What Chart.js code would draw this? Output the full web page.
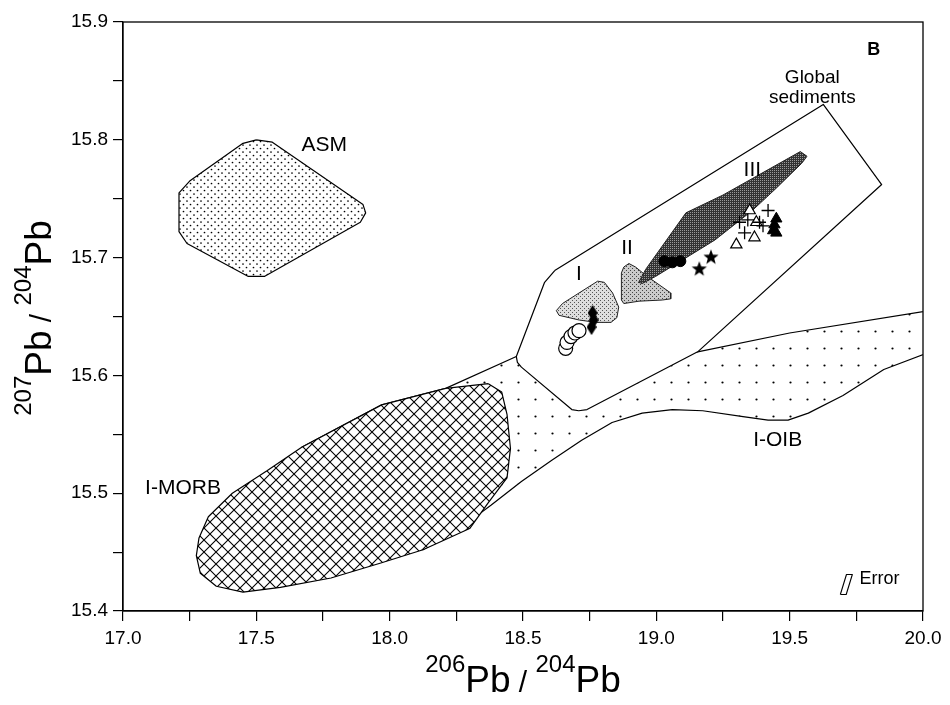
<!DOCTYPE html>
<html><head><meta charset="utf-8">
<script src="https://cdn.jsdelivr.net/npm/chart.js@4.4.1/dist/chart.umd.min.js"></script>
<style>html,body{margin:0;padding:0;background:#fff}</style>
</head><body>
<canvas id="c" width="950" height="705"></canvas>
<script>
// ---------- tick values / labels ----------
const xTickValues = [17.0,17.25,17.5,17.75,18.0,18.25,18.5,18.75,19.0,19.25,19.5,19.75,20.0];
const xTickLabels = ['17.0','','17.5','','18.0','','18.5','','19.0','','19.5','','20.0'];
const yTickValues = [15.4,15.45,15.5,15.55,15.6,15.65,15.7,15.75,15.8,15.85,15.9];
const yTickLabels = ['15.4','','15.5','','15.6','','15.7','','15.8','','15.9'];

// ---------- field outlines (206Pb/204Pb , 207Pb/204Pb) ----------
const asmX = [17.50, 17.56, 17.90, 17.91, 17.89, 17.53, 17.47, 17.24, 17.21, 17.21, 17.25, 17.45];
const asmY = [15.800, 15.798, 15.745, 15.738, 15.730, 15.684, 15.684, 15.712, 15.722, 15.755, 15.765, 15.797];

const sedX = [18.619, 18.581, 18.475, 18.479, 18.494, 18.683, 18.709, 18.74, 19.155, 19.845, 19.626];
const sedY = [15.689, 15.679, 15.616, 15.611, 15.607, 15.571, 15.570, 15.571, 15.620, 15.762, 15.830];

const ioibX = [17.67, 17.97, 18.21, 18.475, 18.70, 18.95, 19.155, 19.50, 20.05, 20.05, 19.853, 19.70, 19.57, 19.494, 19.419, 19.325, 19.174, 19.06, 18.947, 18.834, 18.72, 18.608, 18.494, 18.381, 18.268, 18.125, 17.95, 17.75];
const ioibY = [15.539, 15.575, 15.589, 15.616, 15.600, 15.612, 15.620, 15.636, 15.656, 15.622, 15.605, 15.583, 15.568, 15.562, 15.562, 15.565, 15.570, 15.571, 15.568, 15.560, 15.545, 15.528, 15.510, 15.490, 15.471, 15.452, 15.460, 15.500];

const imorbX = [18.37, 18.42, 18.44, 18.453, 18.44, 18.37, 18.30, 18.125, 17.97, 17.78, 17.59, 17.45, 17.35, 17.29, 17.275, 17.285, 17.32, 17.41, 17.54, 17.67, 17.97, 18.21];
const imorbY = [15.593, 15.586, 15.567, 15.538, 15.513, 15.492, 15.470, 15.452, 15.441, 15.428, 15.420, 15.416, 15.421, 15.432, 15.447, 15.462, 15.480, 15.500, 15.519, 15.539, 15.575, 15.589];

const field1X = [18.625, 18.648, 18.780, 18.805, 18.836, 18.859, 18.852, 18.830, 18.774, 18.711, 18.635];
const field1Y = [15.655, 15.661, 15.680, 15.679, 15.670, 15.658, 15.649, 15.645, 15.645, 15.647, 15.651];

const field2X = [18.878, 18.897, 18.922, 18.960, 19.010, 19.054, 19.054, 19.023, 18.935, 18.878, 18.869, 18.869];
const field2Y = [15.692, 15.695, 15.692, 15.685, 15.677, 15.670, 15.665, 15.664, 15.663, 15.661, 15.664, 15.687];

const field3X = [18.934, 18.96, 19.111, 19.249, 19.54, 19.565, 19.545, 19.45, 19.36, 19.22, 19.098, 18.997, 18.947];
const field3Y = [15.679, 15.690, 15.738, 15.753, 15.790, 15.786, 15.780, 15.759, 15.740, 15.715, 15.698, 15.684, 15.678];

// ---------- samples ----------
const openCircleX = [18.660, 18.665, 18.680, 18.695, 18.710];
const openCircleY = [15.623, 15.628, 15.633, 15.636, 15.638];
const diamondX = [18.761, 18.765, 18.757];
const diamondY = [15.653, 15.647, 15.641];
const blackCircleX = [19.03, 19.06, 19.09];
const blackCircleY = [15.697, 15.696, 15.697];
const starX = [19.161, 19.205];
const starY = [15.691, 15.701];
const openTriX = [19.350, 19.375, 19.368, 19.300];
const openTriY = [15.740, 15.730, 15.717, 15.711];
const crossX = [19.419, 19.312, 19.343, 19.387, 19.331, 19.400];
const crossY = [15.740, 15.730, 15.732, 15.730, 15.721, 15.727];
const blackTriX = [19.450, 19.443, 19.438, 19.450];
const blackTriY = [15.733, 15.728, 15.723, 15.721];

// error symbol
const errX = [19.690, 19.712, 19.735, 19.713];
const errY = [15.414, 15.414, 15.431, 15.431];

// ---------- text annotations ----------
const labelText = ['ASM', 'Global', 'sediments', 'B', 'III', 'II', 'I', 'I-MORB', 'I-OIB'];
const labelX    = [17.755, 19.585, 19.585, 19.815, 19.36, 18.89, 18.71, 17.225, 19.455];
const labelY    = [15.795, 15.853, 15.836, 15.876, 15.774, 15.708, 15.686, 15.504, 15.545];
const labelSize = [21, 19, 19, 18, 21, 21, 21, 21, 21];
const errLabel = 'Error';
const errLabelX = 19.762, errLabelY = 15.427;

// ---------- helpers ----------
const FONT = '"Liberation Sans", Arial, Helvetica, sans-serif';
const cv = document.getElementById('c');
const ctx0 = cv.getContext('2d');
function tile(w, h, draw) {
  const c = document.createElement('canvas'); c.width = w; c.height = h;
  const g = c.getContext('2d'); draw(g, w, h);
  return ctx0.createPattern(c, 'repeat');
}
const denseDots = tile(7, 7, (g, w, h) => {
  g.fillStyle = '#fff'; g.fillRect(0, 0, w, h);
  g.fillStyle = '#000';
  g.beginPath(); g.arc(1.5, 1.5, 0.85, 0, 7); g.fill();
  g.beginPath(); g.arc(5, 5, 0.85, 0, 7); g.fill();
});
const sparseDots = tile(17, 17, (g, w, h) => {
  g.fillStyle = '#fff'; g.fillRect(0, 0, w, h);
  g.fillStyle = '#000'; g.beginPath(); g.arc(8.5, 8.5, 1.1, 0, 7); g.fill();
});
const crossHatch = tile(12, 12, (g, w, h) => {
  g.fillStyle = '#fff'; g.fillRect(0, 0, w, h);
  g.strokeStyle = '#000'; g.lineWidth = 1.1;
  g.beginPath(); g.moveTo(-1, -1); g.lineTo(13, 13); g.moveTo(-1, 13); g.lineTo(13, -1); g.stroke();
});
const stipple = (base, dot) => tile(4, 4, (g, w, h) => {
  g.fillStyle = base; g.fillRect(0, 0, w, h);
  g.fillStyle = dot; g.fillRect(0, 0, 1, 1); g.fillRect(2, 2, 1, 1);
});
const fill1 = stipple('#dedede', '#555');
const fill2 = stipple('#cacaca', '#444');
const fill3 = tile(2, 2, (g) => {
  g.fillStyle = '#333'; g.fillRect(0, 0, 2, 2);
  g.fillStyle = '#9a9a9a'; g.fillRect(0, 0, 1, 1);
});

function starCanvas(r) {
  const s = Math.ceil(r * 2 + 2), c = document.createElement('canvas');
  c.width = c.height = s; const g = c.getContext('2d');
  g.translate(s / 2, s / 2 + 1); g.beginPath();
  for (let i = 0; i < 10; i++) {
    const a = -Math.PI / 2 + i * Math.PI / 5, rr = i % 2 ? r * 0.42 : r;
    g.lineTo(rr * Math.cos(a), rr * Math.sin(a));
  }
  g.closePath(); g.fillStyle = '#000'; g.fill(); return c;
}
function diamondCanvas(w, h) {
  const c = document.createElement('canvas'); c.width = w; c.height = h;
  const g = c.getContext('2d'); g.beginPath();
  g.moveTo(w / 2, 0); g.lineTo(w, h / 2); g.lineTo(w / 2, h); g.lineTo(0, h / 2); g.closePath();
  g.fillStyle = '#000'; g.fill(); return c;
}

const pts = (xs, ys) => xs.map((x, i) => ({ x, y: ys[i] }));
const closed = (xs, ys) => { const p = pts(xs, ys); p.push({ ...p[0] }); return p; };

function poly(xs, ys, bg, order, bc = '#000', bw = 1.2) {
  return { data: closed(xs, ys), showLine: true, fill: 'shape', backgroundColor: bg,
    borderColor: bc, borderWidth: bw, pointRadius: 0, pointHoverRadius: 0, tension: 0,
    borderJoinStyle: 'round', order };
}
function marks(xs, ys, style, r, bg, bc, bw, order) {
  return { data: pts(xs, ys), showLine: false, pointStyle: style, pointRadius: r,
    pointBackgroundColor: bg, pointBorderColor: bc, pointBorderWidth: bw, order };
}

const datasets = [
  poly(ioibX, ioibY, sparseDots, 100),
  poly(imorbX, imorbY, crossHatch, 90),
  poly(asmX, asmY, denseDots, 90),
  poly(sedX, sedY, '#ffffff', 80),
  poly(field1X, field1Y, fill1, 70, '#222', 1),
  poly(field2X, field2Y, fill2, 60, '#222', 1),
  poly(field3X, field3Y, fill3, 50, '#222', 1),
  poly(errX, errY, '#ffffff', 40, '#000', 1.1),
  marks(openCircleX, openCircleY, 'circle', 7, '#fff', '#000', 1.2, 9),
  marks(diamondX, diamondY, diamondCanvas(10, 16), 6, '#000', '#000', 0, 8),
  marks(blackCircleX, blackCircleY, 'circle', 5.5, '#000', '#000', 1, 7),
  marks(starX, starY, starCanvas(8), 7, '#000', '#000', 0, 6),
  marks(openTriX, openTriY, 'triangle', 6.5, '#fff', '#000', 1.2, 5),
  marks(crossX, crossY, 'cross', 6.5, '#000', '#000', 1.3, 4),
  marks(blackTriX, blackTriY, 'triangle', 6.5, '#000', '#000', 1, 3),
];

function drawPbTitle(ctx, sup1, cx, cy, rotate) {
  const big = '37px ' + FONT, small = '24px ' + FONT, slash = '30px ' + FONT;
  const parts = [[sup1, small, -20], ['Pb', big, 0], [' / ', slash, 0], ['204', small, -20], ['Pb', big, 0]];
  let total = 0;
  parts.forEach(p => { ctx.font = p[1]; p.w = ctx.measureText(p[0]).width; total += p.w; });
  ctx.save(); ctx.translate(cx, cy); if (rotate) ctx.rotate(-Math.PI / 2);
  ctx.fillStyle = '#000'; ctx.textAlign = 'left'; ctx.textBaseline = 'alphabetic';
  let x = -total / 2;
  parts.forEach(p => { ctx.font = p[1]; ctx.fillText(p[0], x, p[2]); x += p.w; });
  ctx.restore();
}

const annotate = {
  id: 'annotate',
  afterDatasetsDraw(chart) {
    const { ctx, chartArea: a, scales: { x, y } } = chart;
    ctx.save();
    ctx.strokeStyle = '#000'; ctx.lineWidth = 1.3;
    ctx.strokeRect(a.left, a.top, a.right - a.left, a.bottom - a.top);
    ctx.fillStyle = '#000'; ctx.textAlign = 'center'; ctx.textBaseline = 'middle';
    labelText.forEach((t, i) => {
      ctx.font = (t === 'B' ? 'bold ' : '') + labelSize[i] + 'px ' + FONT;
      ctx.fillText(t, x.getPixelForValue(labelX[i]), y.getPixelForValue(labelY[i]));
    });
    ctx.font = '18px ' + FONT; ctx.textAlign = 'left';
    ctx.fillText(errLabel, x.getPixelForValue(errLabelX), y.getPixelForValue(errLabelY));
    drawPbTitle(ctx, '206', (a.left + a.right) / 2, 692, false);
    drawPbTitle(ctx, '207', 51, 318, true);
    ctx.restore();
  }
};

const tickFont = { family: FONT, size: 19 };
new Chart(cv, {
  type: 'scatter',
  data: { datasets },
  plugins: [annotate],
  options: {
    responsive: false, animation: false, events: [],
    layout: { padding: { left: 0, right: 27, top: 22, bottom: 0 } },
    plugins: { legend: { display: false }, tooltip: { enabled: false } },
    scales: {
      x: {
        type: 'linear', min: 17, max: 20,
        afterBuildTicks: s => { s.ticks = xTickValues.map(v => ({ value: v })); },
        afterFit: s => { s.height = 94; },
        ticks: { autoSkip: false, maxRotation: 0, padding: 6, color: '#000', font: tickFont,
          callback: (v, i) => xTickLabels[i] },
        grid: { drawOnChartArea: false, drawTicks: true, tickLength: 10, color: '#000', lineWidth: 1.2 },
        border: { display: true, color: '#000', width: 1.2 }
      },
      y: {
        type: 'linear', min: 15.4, max: 15.9,
        afterBuildTicks: s => { s.ticks = yTickValues.map(v => ({ value: v })); },
        afterFit: s => { s.width = 123; },
        ticks: { autoSkip: false, padding: 5, color: '#000', font: tickFont,
          callback: (v, i) => yTickLabels[i] },
        grid: { drawOnChartArea: false, drawTicks: true, tickLength: 10, color: '#000', lineWidth: 1.2 },
        border: { display: true, color: '#000', width: 1.2 }
      }
    }
  }
});
</script>
</body></html>
